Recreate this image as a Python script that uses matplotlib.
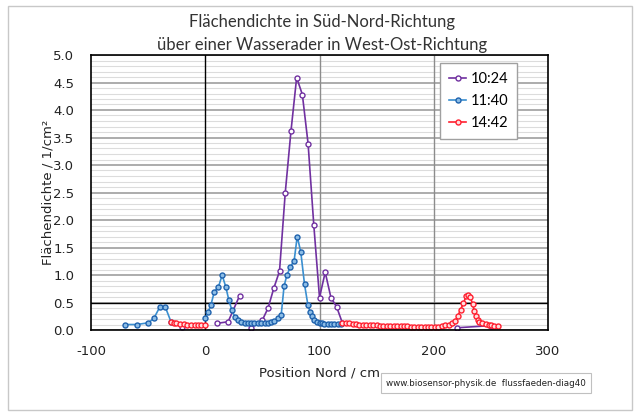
import numpy as np
import matplotlib
matplotlib.use('Agg')
import matplotlib.pyplot as plt
from matplotlib.patches import Rectangle

nan = np.nan

# 10:24 series (gaps as nan)
x_1024 = [-20, nan, 10, 20, 30, nan,
          40, 50, 55, 60, 65, 70, 75, 80, 85, 90, 95, 100, 105, 110, 115, 120, nan,
          220, 250]
y_1024 = [0.05, nan, 0.12, 0.15, 0.62, nan,
          0.04, 0.18, 0.40, 0.76, 1.07, 2.49, 3.61, 4.59, 4.28, 3.39, 1.91, 0.59, 1.05, 0.59, 0.42, 0.13, nan,
          0.04, 0.08]

# 11:40 series
x_1140 = [-70, -60, -50, -45, -40, -35, -30, nan,
          0, 2.5, 5, 8, 11.5, 14.8, 18, 20.7, 23.3, 25.9, 28.5, 31.5, 34.4, 37.3, 40.2, 43.1,
          46, 49, 51.9, 54.8, 57.7, 60.6, 63.5, 66.5, 69, 71.5, 74.6, 77.8, 80.5, 83.6, 86.9,
          89.8, 91.8, 93.6, 95.6, 97.6, 100, 102, 104.3, 107.2, 110.2, 113.1, 116, 118.5]
y_1140 = [0.10, 0.10, 0.13, 0.21, 0.41, 0.42, 0.15, nan,
          0.22, 0.32, 0.46, 0.70, 0.78, 1.00, 0.78, 0.54, 0.36, 0.24, 0.18, 0.15, 0.13, 0.13, 0.13, 0.13,
          0.13, 0.13, 0.12, 0.13, 0.14, 0.17, 0.21, 0.28, 0.80, 1.00, 1.15, 1.26, 1.70, 1.42, 0.83,
          0.46, 0.33, 0.25, 0.19, 0.15, 0.13, 0.12, 0.11, 0.11, 0.11, 0.11, 0.11, 0.11]

# 14:42 series
x_1442 = [-30.3, -27.4, -25.4, -22.5, -19, -16.1, -12.2, -9.4, -6.5, -3.5, -0.6, nan,
          120, 123, 126, 129, 132, 135, 138, 141, 144, 147, 150, 153, 156, 159, 162, 165, 168,
          171, 174, 177, 180, 183, 186, 189, 192, 195, 198, 201, 204, 207, 210, 213, 216, 218.5,
          221, 223.5, 226, 228.3, 230.3, 232, 234, 235.5, 237, 238.5, 240, 242.5, 245.5, 248.3,
          250.5, 253, 256.5]
y_1442 = [0.14, 0.13, 0.12, 0.11, 0.11, 0.10, 0.10, 0.09, 0.10, 0.09, 0.10, nan,
          0.13, 0.12, 0.12, 0.11, 0.11, 0.10, 0.10, 0.10, 0.09, 0.09, 0.09, 0.08, 0.08, 0.08, 0.08, 0.07, 0.07,
          0.07, 0.07, 0.07, 0.06, 0.06, 0.06, 0.06, 0.06, 0.05, 0.05, 0.05, 0.06, 0.07, 0.09, 0.10, 0.13, 0.16,
          0.25, 0.37, 0.49, 0.61, 0.64, 0.60, 0.47, 0.35, 0.25, 0.19, 0.15, 0.12, 0.11, 0.10,
          0.10, 0.08, 0.07]

x_ticks = [-100, 0, 100, 200, 300]
y_ticks = [0.0, 0.5, 1.0, 1.5, 2.0, 2.5, 3.0, 3.5, 4.0, 4.5, 5.0]

fig = plt.figure(figsize=(6.41, 4.19), dpi=100)
ax = fig.add_axes([91 / 641, 1 - 330 / 419, 457 / 641, 275 / 419])

# outer frame of the chart
fig.patches.append(Rectangle((8 / 641, 9 / 419), 624 / 641, 404 / 419, transform=fig.transFigure,
                             fill=False, edgecolor='#c8c8c8', linewidth=1.0))

# grid
ax.set_xlim(-100, 300)
ax.set_ylim(0, 5)
ax.set_xticks(x_ticks)
ax.set_yticks(y_ticks)
ax.set_yticks(np.arange(0, 5.01, 0.1), minor=True)
ax.grid(which='minor', axis='y', color='#dcdcdc', linewidth=0.8, zorder=0.5)
ax.grid(which='major', axis='y', color='#a6a6a6', linewidth=1.3, zorder=0.6)
ax.axvline(100, color='#8c8c8c', linewidth=1.0, zorder=0.7)
ax.axvline(200, color='#8c8c8c', linewidth=1.0, zorder=0.7)
ax.axhline(0.5, color='black', linewidth=1.0, zorder=1.5)
ax.axvline(0, color='black', linewidth=1.0, zorder=1.5)
ax.set_axisbelow(True)

ax.plot(x_1024, y_1024, '-o', color='#7030a0', markerfacecolor='white', markeredgecolor='#7030a0',
        markersize=3.6, linewidth=1.2, markeredgewidth=1.0, label='10:24')
ax.plot(x_1140, y_1140, '-o', color='#3a8fd0', markerfacecolor='#8cbde6', markeredgecolor='#1f62ad',
        markersize=3.6, linewidth=1.2, markeredgewidth=1.0, label='11:40')
ax.plot(x_1442, y_1442, '-o', color='#ff2030', markerfacecolor='#ffe0e0', markeredgecolor='#ff2030',
        markersize=3.6, linewidth=1.2, markeredgewidth=1.0, label='14:42')

for s in ax.spines.values():
    s.set_color('black')
    s.set_linewidth(1.2)

ax.tick_params(which='both', length=0, labelsize=9.5, colors='#222222')
ax.tick_params(axis='y', pad=12)
ax.tick_params(axis='x', pad=11)
ax.set_xticklabels(['-100', '0', '100', '200', '300'])
ax.set_yticklabels(['%.1f' % v for v in y_ticks])

ax.set_xlabel('Position Nord / cm', fontsize=9.5, color='#222222', labelpad=6)
ax.set_ylabel('Flächendichte / 1/cm²', fontsize=9.5, color='#222222', labelpad=-1)

fig.text(0.502, 1 - 22 / 419, 'Flächendichte in Süd-Nord-Richtung', ha='center', va='center',
         fontsize=12, family='Lato', color='#333333')
fig.text(0.502, 1 - 45 / 419, 'über einer Wasserader in West-Ost-Richtung', ha='center', va='center',
         fontsize=12, family='Lato', color='#333333')

leg = ax.legend(loc='upper left', bbox_to_anchor=(0.764, 0.971), prop={'family': 'Lato', 'size': 10.5},
                handlelength=1.2, handletextpad=0.3, borderpad=0.6, labelspacing=0.55, borderaxespad=0,
                fancybox=False, framealpha=1.0, edgecolor='#a0a0a0')
leg.get_frame().set_linewidth(1.0)

# source note
fig.text(0.758, 1 - 383 / 419, 'www.biosensor-physik.de  flussfaeden-diag40', ha='center', va='center',
         fontsize=6.3, color='#222222',
         bbox=dict(boxstyle='square,pad=0.6', facecolor='white', edgecolor='#c0c0c0', linewidth=0.8))

fig.savefig('out.png', dpi=100)
